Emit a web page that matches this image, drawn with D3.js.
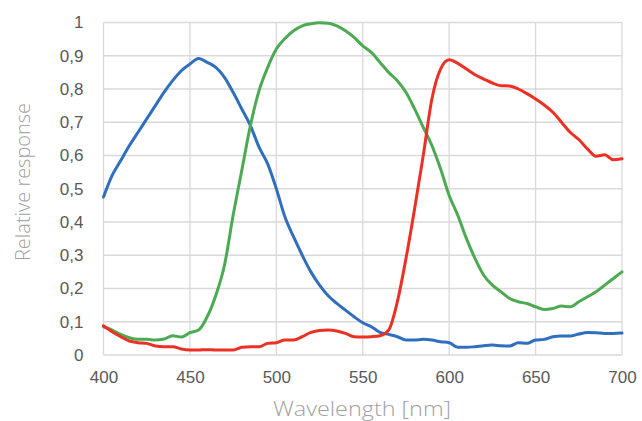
<!DOCTYPE html>
<html>
<head>
<meta charset="utf-8">
<script src="https://cdn.jsdelivr.net/npm/d3@7"></script>
<style>
  html, body { margin: 0; padding: 0; background: #fff; }
  svg { display: block; }
</style>
</head>
<body>
<svg id="chart" width="642" height="421"></svg>
<script>
// Wavelength samples (nm)
const wavelengths = [400,405,410,415,420,425,430,435,440,445,450,455,460,465,470,475,480,485,490,495,
  500,505,510,515,520,525,530,535,540,545,550,555,560,565,570,575,580,585,590,595,
  600,605,610,615,620,625,630,635,640,645,650,655,660,665,670,675,680,685,690,695,700];

// Relative spectral response of each colour channel
const blueResponse = [0.475,0.54,0.585,0.63,0.67,0.71,0.75,0.79,0.825,0.855,0.875,0.892,0.88,0.865,0.835,0.79,0.74,0.69,0.625,0.575,
  0.5,0.415,0.355,0.30,0.25,0.21,0.178,0.155,0.135,0.115,0.097,0.085,0.068,0.062,0.055,0.045,0.045,0.047,0.045,0.04,
  0.037,0.023,0.023,0.025,0.028,0.03,0.028,0.027,0.037,0.035,0.045,0.047,0.055,0.057,0.057,0.063,0.068,0.067,0.065,0.065,0.066];

const greenResponse = [0.085,0.075,0.062,0.052,0.047,0.047,0.045,0.048,0.058,0.054,0.067,0.075,0.115,0.18,0.27,0.42,0.555,0.69,0.795,0.865,
  0.92,0.952,0.975,0.99,0.996,0.999,0.998,0.99,0.975,0.955,0.93,0.91,0.88,0.85,0.825,0.79,0.74,0.685,0.63,0.56,
  0.48,0.42,0.35,0.29,0.24,0.21,0.19,0.17,0.16,0.155,0.145,0.137,0.14,0.147,0.145,0.16,0.175,0.19,0.21,0.23,0.25];

const redResponse = [0.088,0.07,0.055,0.042,0.037,0.035,0.027,0.025,0.025,0.018,0.015,0.015,0.016,0.015,0.015,0.015,0.023,0.025,0.025,0.035,
  0.037,0.045,0.045,0.055,0.068,0.074,0.075,0.072,0.065,0.055,0.054,0.055,0.058,0.075,0.16,0.29,0.44,0.6,0.77,0.86,
  0.888,0.877,0.86,0.843,0.83,0.818,0.81,0.809,0.8,0.786,0.77,0.752,0.73,0.70,0.67,0.648,0.62,0.598,0.602,0.587,0.59];

const xTicks = [400,450,500,550,600,650,700];
const yTicks = [0,0.1,0.2,0.3,0.4,0.5,0.6,0.7,0.8,0.9,1];

const series = [
  { name: "Blue",  values: blueResponse,  color: "#2f6fbe" },
  { name: "Green", values: greenResponse, color: "#4caa52" },
  { name: "Red",   values: redResponse,   color: "#ec3024" }
];

const svg = d3.select("#chart");
const margin = { left: 103.5, right: 20, top: 22.5, bottom: 66 };
const W = 642, H = 421;

const x = d3.scaleLinear().domain([400, 700]).range([margin.left, W - margin.right]);
const y = d3.scaleLinear().domain([0, 1]).range([H - margin.bottom, margin.top]);

const fmt = v => v === 0 ? "0" : v === 1 ? "1" : d3.format(".1f")(v).replace(".", ",");

// Grid
const grid = svg.append("g");
grid.selectAll("line.h").data(yTicks).join("line")
  .attr("x1", x(400)).attr("x2", x(700))
  .attr("y1", d => y(d)).attr("y2", d => y(d))
  .attr("stroke", "#d9d9d9").attr("stroke-width", 1.3);
grid.selectAll("line.v").data(xTicks).join("line")
  .attr("x1", d => x(d)).attr("x2", d => x(d))
  .attr("y1", y(0)).attr("y2", y(1))
  .attr("stroke", "#d9d9d9").attr("stroke-width", 1.3);

// Axes (labels only)
const xAxis = svg.append("g")
  .attr("transform", `translate(0,${y(0)})`)
  .call(d3.axisBottom(x).tickValues(xTicks).tickSize(0).tickPadding(16).tickFormat(d3.format("d")));
const yAxis = svg.append("g")
  .attr("transform", `translate(${x(400)},0)`)
  .call(d3.axisLeft(y).tickValues(yTicks).tickSize(0).tickPadding(20).tickFormat(fmt));
[xAxis, yAxis].forEach(a => {
  a.select(".domain").remove();
  a.selectAll("text")
    .attr("fill", "#595959")
    .style("font-family", "'Liberation Sans', Arial, sans-serif")
    .style("font-size", "17px");
});

// Lines
const line = d3.line()
  .x((d, i) => x(wavelengths[i]))
  .y(d => y(d))
  .curve(d3.curveMonotoneX);

svg.append("g").selectAll("path").data(series).join("path")
  .attr("d", d => line(d.values))
  .attr("fill", "none")
  .attr("stroke", d => d.color)
  .attr("stroke-width", 3)
  .attr("stroke-linejoin", "round")
  .attr("stroke-linecap", "round");

// Axis titles
svg.append("text")
  .attr("x", 362)
  .attr("y", 416)
  .attr("text-anchor", "middle")
  .attr("fill", "#a0a0a0")
  .attr("textLength", 178)
  .attr("lengthAdjust", "spacingAndGlyphs")
  .style("font-family", "'Open Sans', 'Liberation Sans', sans-serif")
  .style("font-weight", 300)
  .style("font-size", "21px")
  .text("Wavelength [nm]");

svg.append("text")
  .attr("transform", `translate(30,182) rotate(-90)`)
  .attr("text-anchor", "middle")
  .attr("fill", "#a0a0a0")
  .attr("textLength", 158)
  .attr("lengthAdjust", "spacingAndGlyphs")
  .style("font-family", "'Open Sans', 'Liberation Sans', sans-serif")
  .style("font-weight", 300)
  .style("font-size", "20px")
  .text("Relative response");
</script>
</body>
</html>
